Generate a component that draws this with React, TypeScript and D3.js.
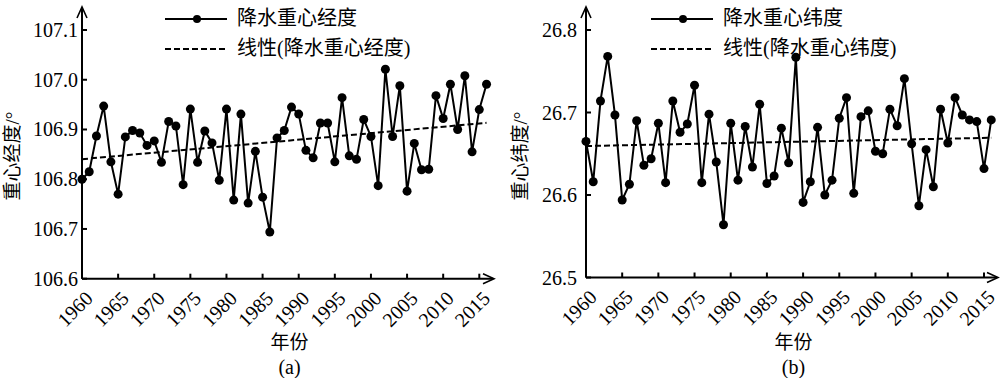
import React from "react";
import * as d3 from "d3";

const years: number[] = d3.range(1960, 2017);

const lonValues: number[] = [
  106.8, 106.815, 106.887, 106.947, 106.835, 106.77, 106.885, 106.898, 106.893, 106.868,
  106.877, 106.834, 106.916, 106.907, 106.789, 106.941, 106.834, 106.897, 106.873, 106.798,
  106.941, 106.758, 106.931, 106.752, 106.856, 106.764, 106.694, 106.883, 106.898, 106.945,
  106.931, 106.858, 106.843, 106.913, 106.913, 106.835, 106.964, 106.847, 106.84, 106.92,
  106.886, 106.787, 107.021, 106.886, 106.988, 106.776, 106.872, 106.819, 106.82, 106.968,
  106.922, 106.991, 106.9, 107.008, 106.855, 106.94, 106.991,
];

const latValues: number[] = [
  26.665, 26.616, 26.714, 26.768, 26.697, 26.594, 26.613, 26.69, 26.636, 26.644,
  26.687, 26.615, 26.714, 26.676, 26.686, 26.733, 26.615, 26.698, 26.64, 26.564,
  26.687, 26.618, 26.683, 26.634, 26.71, 26.614, 26.623, 26.681, 26.639, 26.767,
  26.591, 26.616, 26.682, 26.6, 26.618, 26.693, 26.718, 26.602, 26.695, 26.702,
  26.653, 26.65, 26.704, 26.684, 26.741, 26.662, 26.587, 26.655, 26.61, 26.704,
  26.663, 26.718, 26.697, 26.691, 26.689, 26.632, 26.691,
];

const xTickYears: number[] = [1960, 1965, 1970, 1975, 1980, 1985, 1990, 1995, 2000, 2005, 2010, 2015];
const lonTicks: number[] = [106.6, 106.7, 106.8, 106.9, 107.0, 107.1];
const latTicks: number[] = [26.5, 26.6, 26.7, 26.8];

const SERIF = "'Liberation Serif', 'Times New Roman', serif";
const CJK = "'Liberation Serif', 'Noto Sans CJK SC', sans-serif";

function linFit(xs: number[], ys: number[]) {
  const mx = d3.mean(xs)!;
  const my = d3.mean(ys)!;
  let num = 0, den = 0;
  xs.forEach((x, i) => {
    num += (x - mx) * (ys[i] - my);
    den += (x - mx) * (x - mx);
  });
  const b = num / den;
  const a = my - b * mx;
  return (x: number) => a + b * x;
}

type PanelProps = {
  values: number[];
  yDomain: [number, number];
  yTicks: number[];
  left: number;
  right2015: number;
  arrowRight: number;
  yTop: number;
  yBottom: number;
  labelGap: number;
  yLabel: string;
  legendName: string;
  legendX: number;
  ylabelX: number;
  panelTag: string;
};

function Panel(p: PanelProps) {
  const x = d3.scaleLinear().domain([1960, 2015]).range([p.left, p.right2015]);
  const y = d3.scaleLinear().domain(p.yDomain).range([p.yBottom, p.yTop]);
  const line = d3
    .line<number>()
    .x((_, i) => x(years[i]))
    .y((d) => y(d));
  const fit = linFit(years, p.values);
  const fx0 = years[0];
  const fx1 = years[years.length - 1];
  const axisY = p.yBottom;
  const midX = (p.left + p.arrowRight) / 2 + 2;
  return (
    <g>
      {/* axes */}
      <line x1={p.left} y1={axisY} x2={p.arrowRight} y2={axisY} stroke="#000" strokeWidth={2} />
      <line x1={p.left} y1={axisY} x2={p.left} y2={8} stroke="#000" strokeWidth={2} />
      <path d={`M${p.left - 5},${18} L${p.left},${7} L${p.left + 5},${18}`} fill="none" stroke="#000" strokeWidth={1.6} />
      <path d={`M${p.arrowRight - 10},${axisY - 5} L${p.arrowRight + 1},${axisY} L${p.arrowRight - 10},${axisY + 5}`} fill="none" stroke="#000" strokeWidth={1.6} />
      {p.yTicks.map((t) => (
        <g key={t}>
          <line x1={p.left} x2={p.left + 5} y1={y(t)} y2={y(t)} stroke="#000" strokeWidth={2} />
          <text
            x={p.left - p.labelGap}
            y={y(t)}
            dy="0.35em"
            textAnchor="end"
            fontFamily={SERIF}
            fontSize={20}
          >
            {t.toFixed(1)}
          </text>
        </g>
      ))}
      {xTickYears.map((t) => (
        <g key={t}>
          <line x1={x(t)} x2={x(t)} y1={axisY} y2={axisY - 5} stroke="#000" strokeWidth={2} />
          <text
            transform={`translate(${x(t) + 7},${axisY + 16}) rotate(-45)`}
            textAnchor="end"
            dy="0.35em"
            fontFamily={SERIF}
            fontSize={20}
          >
            {t}
          </text>
        </g>
      ))}
      {/* trend */}
      <line
        x1={x(fx0)}
        y1={y(fit(fx0))}
        x2={x(fx1)}
        y2={y(fit(fx1))}
        stroke="#000"
        strokeWidth={2}
        strokeDasharray="6,3"
      />
      {/* series */}
      <path d={line(p.values) || ""} fill="none" stroke="#000" strokeWidth={2} />
      {p.values.map((v, i) => (
        <circle key={i} cx={x(years[i])} cy={y(v)} r={4.5} fill="#000" />
      ))}
      {/* legend */}
      <line x1={p.legendX} x2={p.legendX + 62} y1={19} y2={19} stroke="#000" strokeWidth={2} />
      <circle cx={p.legendX + 32} cy={19} r={4} fill="#000" />
      <text x={p.legendX + 72} y={18} dy="0.35em" fontFamily={CJK} fontSize={20}>
        {p.legendName}
      </text>
      <line x1={p.legendX} x2={p.legendX + 62} y1={49} y2={49} stroke="#000" strokeWidth={2} strokeDasharray="6,3" />
      <text x={p.legendX + 72} y={48} dy="0.35em" fontFamily={CJK} fontSize={20}>
        {`线性(${p.legendName})`}
      </text>
      {/* axis titles */}
      <text
        transform={`translate(${p.ylabelX},${156}) rotate(-90)`}
        textAnchor="middle"
        dy="0.35em"
        fontFamily={CJK}
        fontSize={19}
      >
        {p.yLabel}
      </text>
      <text x={midX} y={342} textAnchor="middle" dy="0.35em" fontFamily={CJK} fontSize={19}>
        年份
      </text>
      <text x={midX} y={367} textAnchor="middle" dy="0.35em" fontFamily={SERIF} fontSize={20}>
        {p.panelTag}
      </text>
    </g>
  );
}

export default function App() {
  return (
    <svg
      width={1000}
      height={378}
      style={{ position: "absolute", left: 0, top: 0, background: "#fff" }}
    >
      <rect width={1000} height={378} fill="#fff" />
      <Panel
        values={lonValues}
        yDomain={[106.6, 107.1]}
        yTicks={lonTicks}
        left={82}
        right2015={479.3}
        arrowRight={493}
        yTop={30}
        yBottom={278.7}
        labelGap={4}
        yLabel="重心经度/°"
        legendName="降水重心经度"
        legendX={165}
        ylabelX={12}
        panelTag="(a)"
      />
      <Panel
        values={latValues}
        yDomain={[26.5, 26.8]}
        yTicks={latTicks}
        left={586}
        right2015={984}
        arrowRight={997}
        yTop={30}
        yBottom={277.5}
        labelGap={9}
        yLabel="重心纬度/°"
        legendName="降水重心纬度"
        legendX={651}
        ylabelX={520}
        panelTag="(b)"
      />
    </svg>
  );
}
